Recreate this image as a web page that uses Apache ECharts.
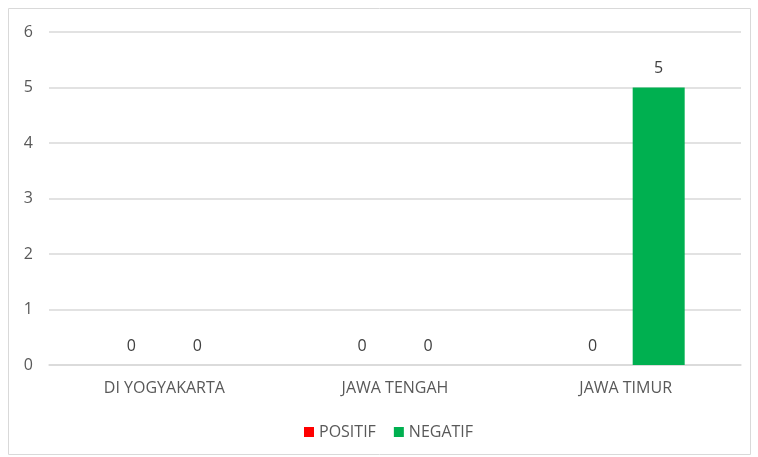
<!DOCTYPE html>
<html><head><meta charset="utf-8">
<script src="https://cdn.jsdelivr.net/npm/echarts@6/dist/echarts.min.js"></script>
<style>html,body{margin:0;padding:0;background:#fff}#c{width:758px;height:457px;}</style>
</head><body><div id="c"></div>
<script>
const categories = ['DI YOGYAKARTA', 'JAWA TENGAH', 'JAWA TIMUR'];
const positif = [0, 0, 0];
const negatif = [0, 0, 5];
const yTicks = [0, 1, 2, 3, 4, 5, 6];

const FONT = '"Open Sans", "Liberation Sans", sans-serif';
const chart = echarts.init(document.getElementById('c'));
chart.setOption({
  animation: false,
  graphic: [{type: 'rect', shape: {x: 8.5, y: 8.5, width: 742, height: 446}, style: {fill: 'none', stroke: '#d9d9d9', lineWidth: 1}}],
  grid: {left: 49, right: 17, top: 32, bottom: 92, containLabel: false},
  legend: {
    bottom: 12, left: 299, itemWidth: 10, itemHeight: 10, itemGap: 18,
    icon: 'rect',
    textStyle: {color: '#595959', fontSize: 16, fontFamily: FONT},
    data: ['POSITIF', 'NEGATIF']
  },
  xAxis: {
    type: 'category', data: categories,
    axisLine: {lineStyle: {color: '#d9d9d9', width: 1.5}},
    axisTick: {show: false},
    axisLabel: {color: '#595959', fontSize: 16, fontFamily: FONT, margin: 15}
  },
  yAxis: {
    type: 'value', min: yTicks[0], max: yTicks[yTicks.length - 1], interval: 1,
    axisLine: {show: false}, axisTick: {show: false},
    splitLine: {lineStyle: {color: '#d9d9d9', width: 1.5}},
    axisLabel: {color: '#595959', fontSize: 16, fontFamily: FONT, margin: 16}
  },
  series: [
    {name: 'POSITIF', type: 'bar', data: positif, barWidth: 52, barGap: '27%',
     itemStyle: {color: '#ff0000'},
     label: {show: true, position: 'top', color: '#404040', fontSize: 16, fontFamily: FONT, distance: 11}},
    {name: 'NEGATIF', type: 'bar', data: negatif, barWidth: 52,
     itemStyle: {color: '#00b050'},
     label: {show: true, position: 'top', color: '#404040', fontSize: 16, fontFamily: FONT, distance: 11}}
  ]
});
</script></body></html>
